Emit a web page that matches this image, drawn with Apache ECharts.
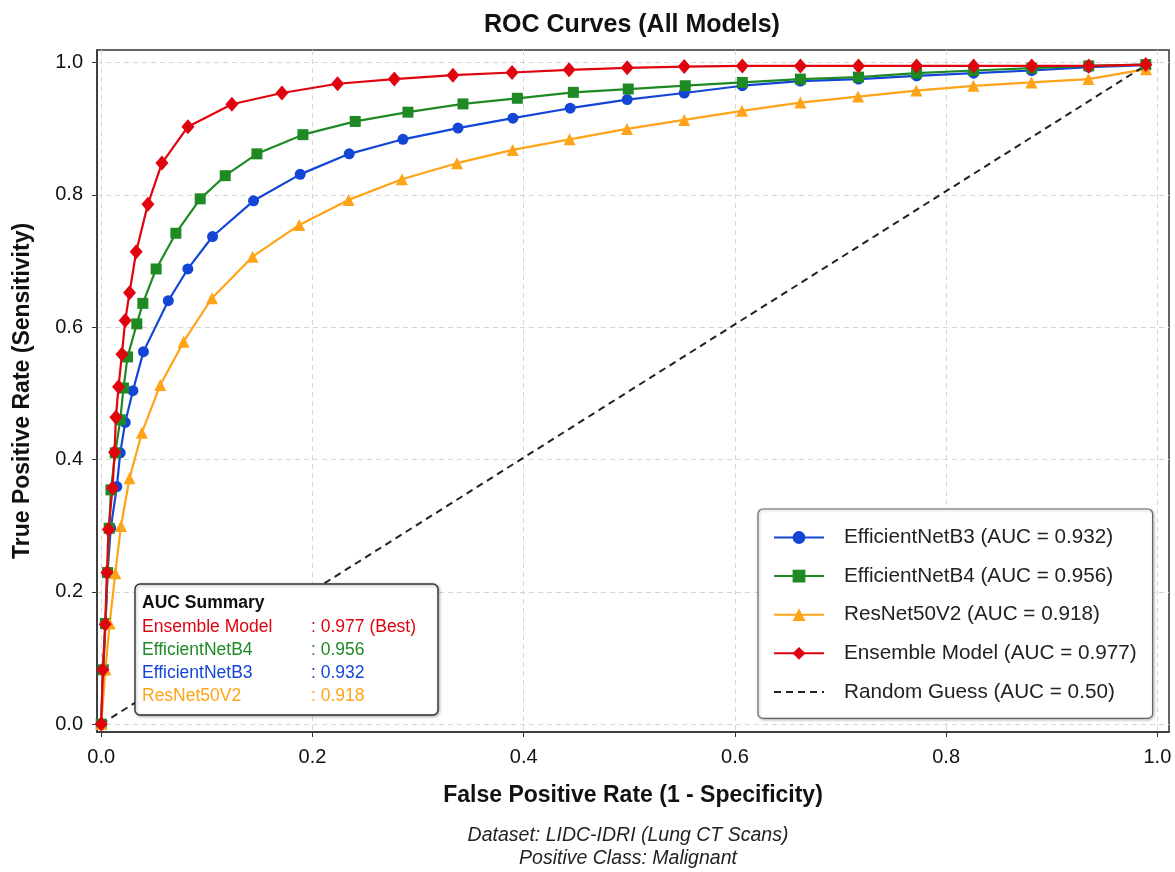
<!DOCTYPE html>
<html>
<head>
<meta charset="utf-8">
<title>ROC Curves (All Models)</title>
<script src="https://cdn.jsdelivr.net/npm/echarts@6/dist/echarts.min.js"></script>
<style>
  html, body { margin: 0; padding: 0; background: #fff; }
  #chart { width: 1175px; height: 872px; }
</style>
</head>
<body>
<div id="chart"></div>
<script>
// ROC points (x = FPR, y = TPR)
const fprB3 = [0, 0.0016, 0.004, 0.006, 0.009, 0.0148, 0.018, 0.0227, 0.030, 0.040, 0.0635, 0.082, 0.1054, 0.1442, 0.1884, 0.2348, 0.2857, 0.3378, 0.3898, 0.444, 0.498, 0.552, 0.607, 0.662, 0.717, 0.772, 0.826, 0.881, 0.935, 0.989]
const tprB3 = [0, 0.082, 0.151, 0.229, 0.296, 0.359, 0.41, 0.456, 0.504, 0.563, 0.64, 0.688, 0.737, 0.791, 0.831, 0.862, 0.884, 0.901, 0.916, 0.931, 0.944, 0.954, 0.965, 0.972, 0.975, 0.98, 0.984, 0.988, 0.993, 0.996]

const fprB4 = [0, 0.002, 0.004, 0.006, 0.0075, 0.0092, 0.0133, 0.018, 0.0211, 0.0249, 0.0337, 0.0394, 0.052, 0.0707, 0.0937, 0.1174, 0.1474, 0.191, 0.2405, 0.2904, 0.3425, 0.394, 0.447, 0.499, 0.553, 0.607, 0.662, 0.717, 0.772, 0.826, 0.881, 0.935, 0.989]
const tprB4 = [0, 0.082, 0.152, 0.229, 0.296, 0.354, 0.41, 0.46, 0.508, 0.555, 0.605, 0.636, 0.688, 0.742, 0.794, 0.829, 0.862, 0.891, 0.911, 0.925, 0.9375, 0.946, 0.955, 0.96, 0.965, 0.97, 0.975, 0.978, 0.984, 0.988, 0.9915, 0.995, 0.997]

const fprRes = [0, 0.004, 0.008, 0.0133, 0.0187, 0.0268, 0.0385, 0.0559, 0.078, 0.1048, 0.1433, 0.1875, 0.2342, 0.2847, 0.3368, 0.3895, 0.4435, 0.4978, 0.552, 0.6067, 0.662, 0.7166, 0.7718, 0.8258, 0.8807, 0.9347, 0.9893]
const tprRes = [0, 0.083, 0.152, 0.228, 0.2994, 0.3715, 0.4405, 0.5126, 0.578, 0.6437, 0.7066, 0.7546, 0.7924, 0.8237, 0.8479, 0.868, 0.884, 0.8997, 0.9133, 0.927, 0.9395, 0.9486, 0.9577, 0.9648, 0.970, 0.975, 0.990]

const fprEns = [0, 0.0016, 0.0038, 0.0054, 0.0069, 0.0107, 0.0126, 0.0139, 0.0164, 0.0196, 0.0227, 0.0268, 0.0331, 0.0442, 0.0575, 0.0821, 0.1237, 0.1711, 0.2238, 0.2775, 0.333, 0.389, 0.443, 0.498, 0.552, 0.607, 0.662, 0.717, 0.772, 0.826, 0.881, 0.935, 0.989]
const tprEns = [0, 0.082, 0.151, 0.229, 0.294, 0.357, 0.411, 0.464, 0.51, 0.559, 0.61, 0.652, 0.714, 0.786, 0.848, 0.903, 0.937, 0.954, 0.968, 0.975, 0.981, 0.985, 0.989, 0.992, 0.994, 0.995, 0.995, 0.995, 0.995, 0.995, 0.995, 0.995, 0.997]

const fprRandom = [0, 0.99]
const tprRandom = [0, 0.997]

const seriesNames = [
  'EfficientNetB3 (AUC = 0.932)',
  'EfficientNetB4 (AUC = 0.956)',
  'ResNet50V2 (AUC = 0.918)',
  'Ensemble Model (AUC = 0.977)',
  'Random Guess (AUC = 0.50)'
]

// AUC summary box
const summaryNames = ['Ensemble Model', 'EfficientNetB4', 'EfficientNetB3', 'ResNet50V2']
const summaryValues = [': 0.977 (Best)', ': 0.956', ': 0.932', ': 0.918']

const tickValues = [0, 0.2, 0.4, 0.6, 0.8, 1.0]

const colors = {
  b3: '#1446d6',
  b4: '#1f8a24',
  res: '#ffa319',
  ens: '#e0040f'
}
const summaryColors = [colors.ens, colors.b4, colors.b3, colors.res]

const FONT = '"Liberation Sans", Arial, Helvetica, sans-serif'

const zip = (xs, ys) => xs.map((x, i) => [x, ys[i]])

const curve = (name, xs, ys, color, symbol, size) => ({
  name: name,
  type: 'line',
  data: zip(xs, ys),
  symbol: symbol,
  symbolSize: size,
  showAllSymbol: true,
  clip: false,
  color: color,
  lineStyle: { width: 2.2, color: color },
  itemStyle: { color: color },
  emphasis: { disabled: true }
})

const graphics = [
  {
    type: 'rect',
    shape: { x: 135, y: 584, width: 303, height: 131, r: 5 },
    style: {
      fill: '#fff', stroke: '#333', lineWidth: 1.4,
      shadowBlur: 3, shadowOffsetX: 1, shadowOffsetY: 1, shadowColor: 'rgba(0,0,0,0.3)'
    },
    z: 10
  },
  {
    type: 'text',
    x: 142, y: 603,
    style: { text: 'AUC Summary', font: 'bold 17.5px ' + FONT, fill: '#111', verticalAlign: 'middle' },
    z: 11
  },
  // subtitles under the x axis name
  {
    type: 'text',
    x: 628, y: 836,
    style: { text: 'Dataset: LIDC-IDRI (Lung CT Scans)', font: 'italic 19.5px ' + FONT, fill: '#222', align: 'center', verticalAlign: 'middle' }
  },
  {
    type: 'text',
    x: 628, y: 859,
    style: { text: 'Positive Class: Malignant', font: 'italic 19.5px ' + FONT, fill: '#222', align: 'center', verticalAlign: 'middle' }
  }
]
summaryNames.forEach((n, i) => {
  const y = 626.7 + i * 23.3
  graphics.push({
    type: 'text', x: 142, y: y, z: 11,
    style: { text: n, font: '17.5px ' + FONT, fill: summaryColors[i], verticalAlign: 'middle' }
  })
  graphics.push({
    type: 'text', x: 311, y: y, z: 11,
    style: { text: summaryValues[i], font: '17.5px ' + FONT, fill: summaryColors[i], verticalAlign: 'middle' }
  })
})

// legend entries; the random line gets no marker
const legendData = seriesNames.map((n, i) => i === 4 ? { name: n, itemStyle: { opacity: 0 } } : { name: n })

const option = {
  animation: false,
  backgroundColor: '#fff',
  textStyle: { fontFamily: FONT },
  title: {
    text: 'ROC Curves (All Models)',
    left: 627,
    top: 8,
    textAlign: 'center',
    textStyle: { fontSize: 25, fontWeight: 'bold', color: '#111', fontFamily: FONT }
  },
  grid: {
    left: 97, right: 6, top: 50, bottom: 140,
    show: true,
    borderColor: '#333',
    borderWidth: 1.5,
    backgroundColor: 'transparent'
  },
  legend: {
    orient: 'vertical',
    left: 758,
    top: 509,
    padding: [18, 16, 16, 15],
    itemWidth: 50,
    itemHeight: 16,
    itemGap: 17.6,
    selectedMode: false,
    backgroundColor: '#fff',
    borderColor: '#666',
    borderWidth: 1.2,
    borderRadius: 5,
    shadowBlur: 3,
    shadowOffsetX: 1,
    shadowOffsetY: 1,
    shadowColor: 'rgba(0,0,0,0.25)',
    textStyle: { fontSize: 20.7, lineHeight: 20, color: '#222', padding: [0, 0, 0, 15], fontFamily: FONT },
    data: legendData
  },
  xAxis: {
    type: 'value',
    min: -0.004,
    max: 1.011,
    name: 'False Positive Rate (1 - Specificity)',
    nameLocation: 'middle',
    nameGap: 52,
    nameTextStyle: { fontSize: 23, fontWeight: 'bold', color: '#111', fontFamily: FONT },
    axisLine: { show: true, onZero: false, lineStyle: { color: '#333', width: 1.5 } },
    axisTick: { show: true, length: 5, customValues: tickValues, lineStyle: { color: '#333' } },
    axisLabel: {
      customValues: tickValues,
      formatter: v => v.toFixed(1),
      fontSize: 20, color: '#111', margin: 15
    },
    splitLine: { show: true, lineStyle: { type: [5, 4], color: '#d6d6d6', width: 1 } }
  },
  yAxis: {
    type: 'value',
    min: -0.012,
    max: 1.019,
    name: 'True Positive Rate (Sensitivity)',
    nameLocation: 'middle',
    nameGap: 63,
    nameTextStyle: { fontSize: 23, fontWeight: 'bold', color: '#111', fontFamily: FONT },
    axisLine: { show: true, onZero: false, lineStyle: { color: '#333', width: 1.5 } },
    axisTick: { show: true, length: 5, customValues: tickValues, lineStyle: { color: '#333' } },
    axisLabel: {
      customValues: tickValues,
      formatter: v => v.toFixed(1),
      fontSize: 20, color: '#111', margin: 14
    },
    splitLine: { show: true, lineStyle: { type: [5, 4], color: '#d6d6d6', width: 1 } }
  },
  series: [
    curve(seriesNames[0], fprB3, tprB3, colors.b3, 'circle', 11),
    curve(seriesNames[1], fprB4, tprB4, colors.b4, 'rect', 11),
    curve(seriesNames[2], fprRes, tprRes, colors.res, 'triangle', 12),
    curve(seriesNames[3], fprEns, tprEns, colors.ens, 'diamond', [13, 15]),
    {
      name: seriesNames[4],
      type: 'line',
      data: zip(fprRandom, tprRandom),
      symbol: 'none',
      clip: false,
      color: '#222',
      lineStyle: { width: 2, type: [7, 5], color: '#222' },
      emphasis: { disabled: true }
    }
  ],
  graphic: graphics
}

let chart = echarts.init(document.getElementById('chart'))
chart.setOption(option)
</script>
</body>
</html>
